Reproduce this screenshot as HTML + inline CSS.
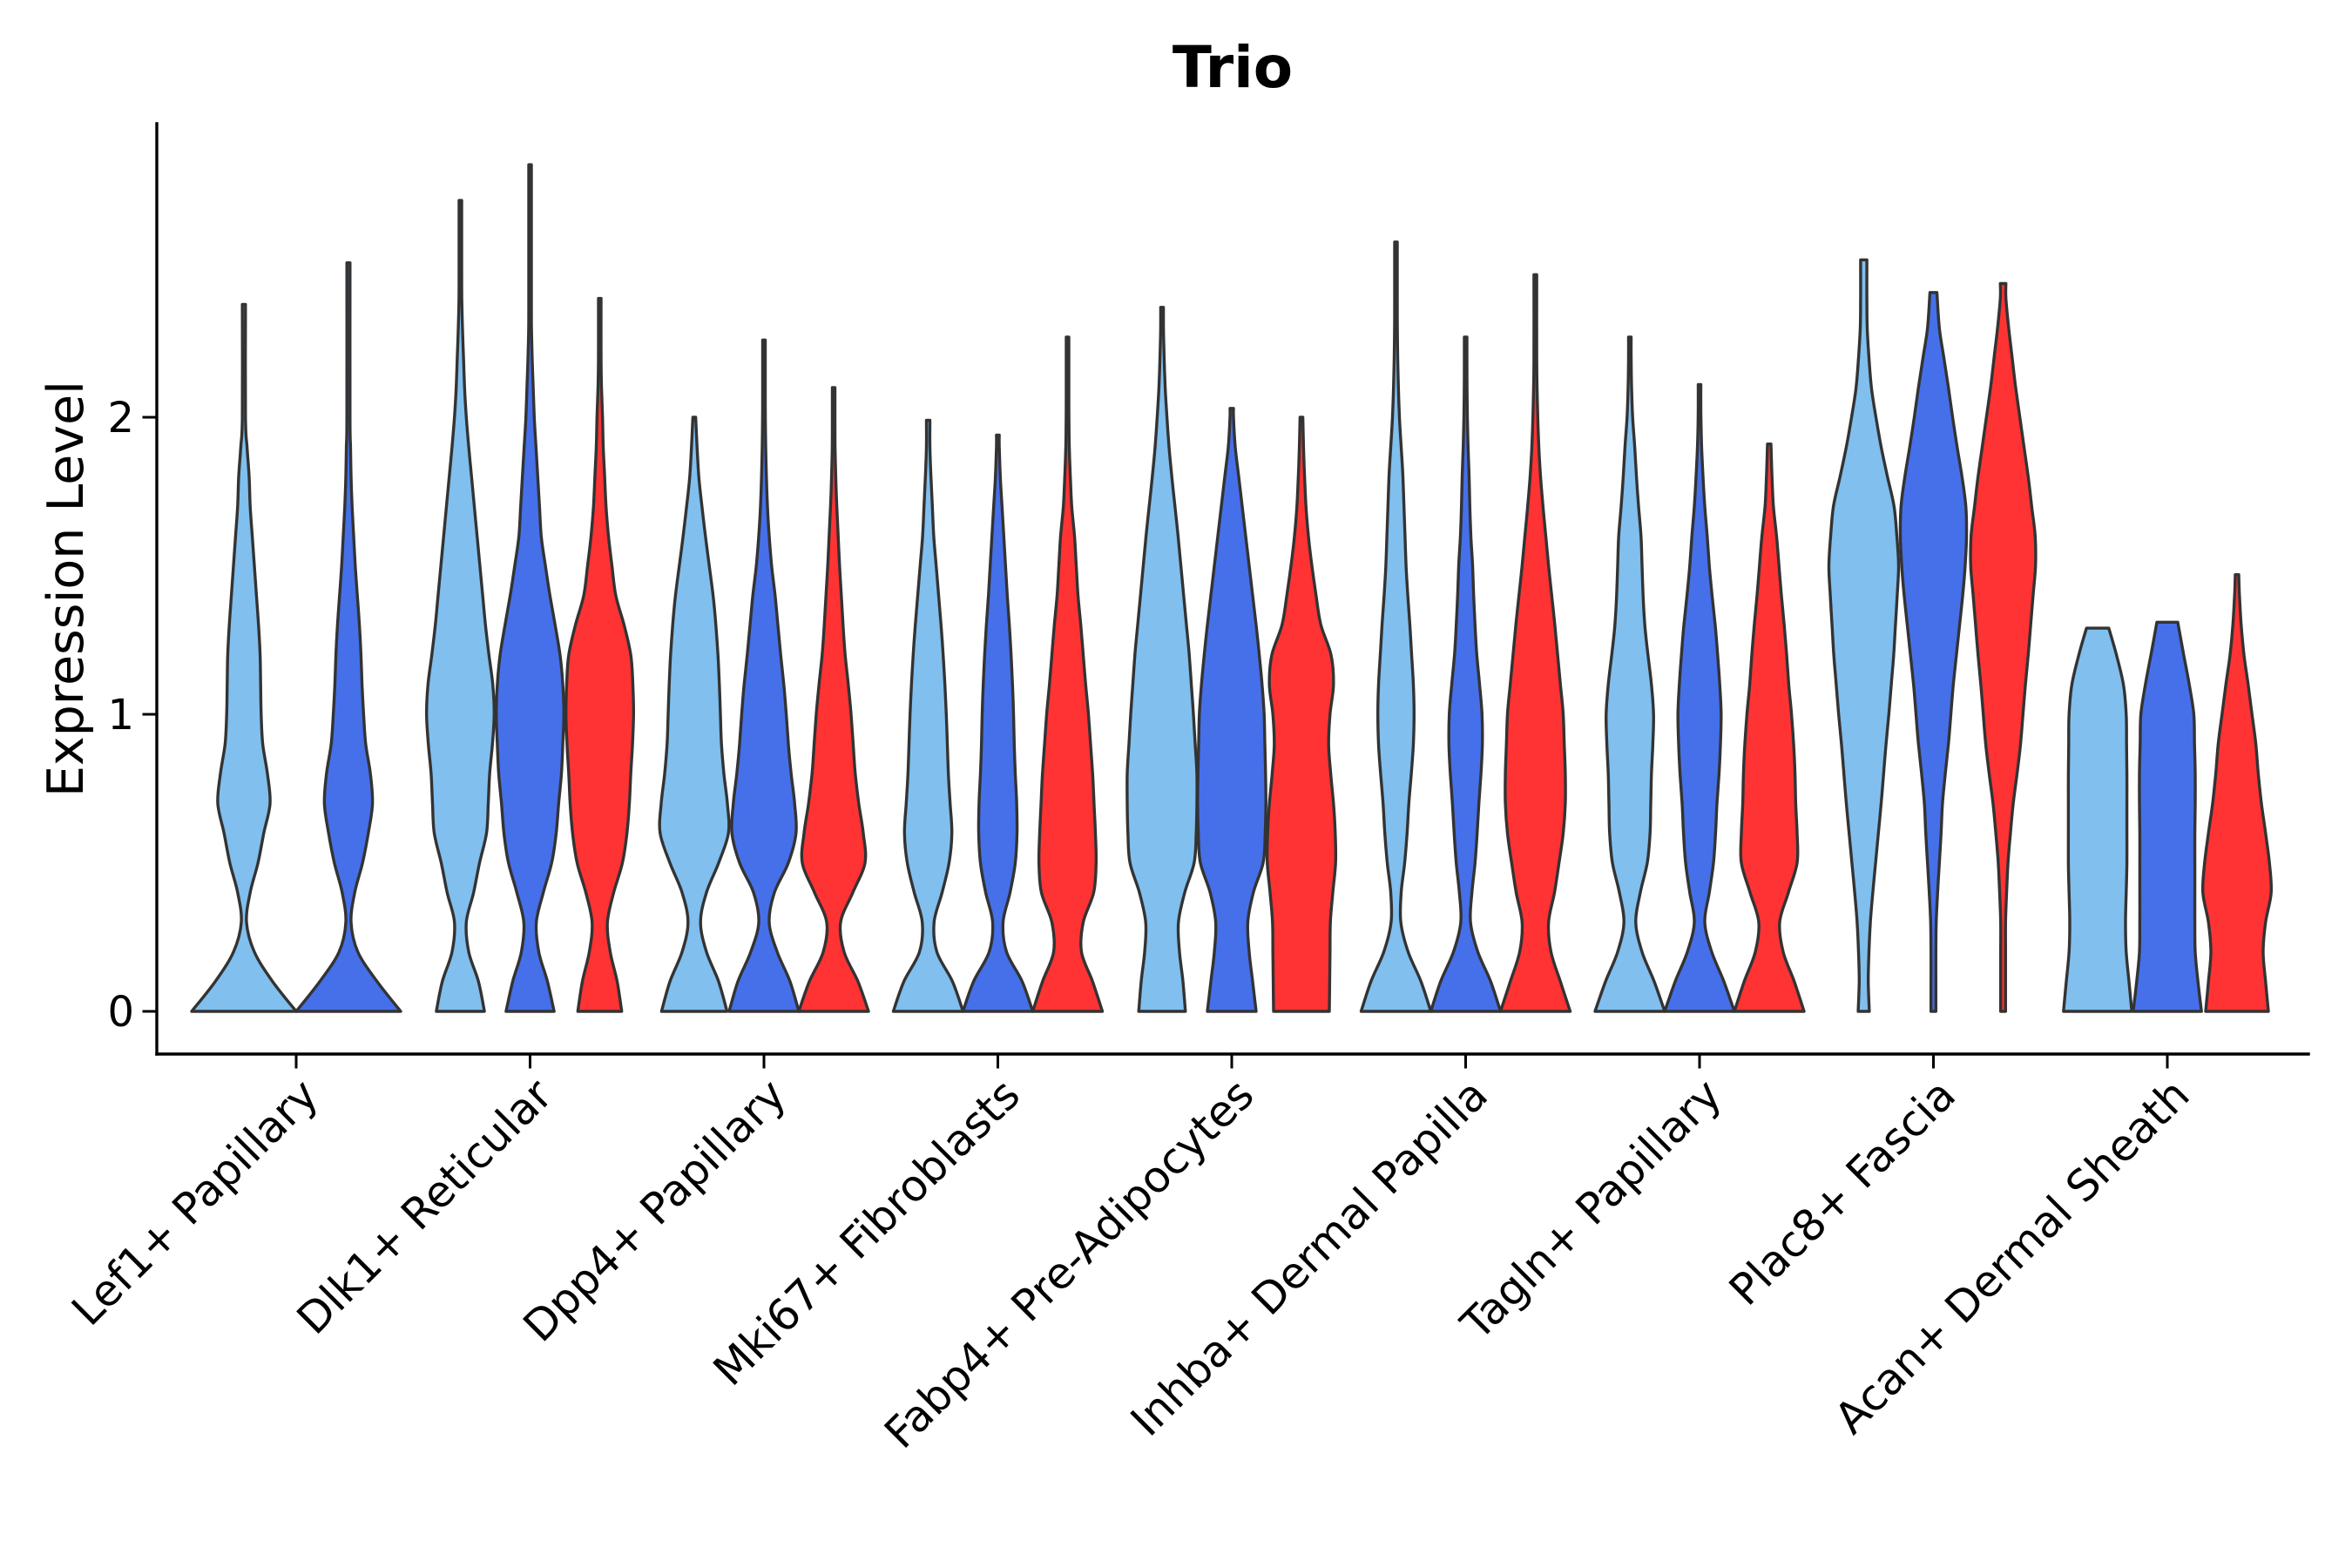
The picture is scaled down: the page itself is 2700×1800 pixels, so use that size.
<!DOCTYPE html>
<html><head><meta charset="utf-8"><style>
html,body{margin:0;padding:0;background:#fff;}
svg{display:block;}
text{font-family:"DejaVu Sans","Liberation Sans",sans-serif;fill:#000;}
</style></head><body>
<svg id="chart" width="2700" height="1800" viewBox="0 0 2700 1800" xmlns="http://www.w3.org/2000/svg">
<rect x="0" y="0" width="2700" height="1800" fill="#fff"/>
<text x="1415" y="100" font-size="66" font-weight="bold" text-anchor="middle">Trio</text>
<text transform="translate(95,676) rotate(-90)" font-size="57" text-anchor="middle">Expression Level</text>
<g id="violins"></g>
<g id="axes"></g>
</svg>
<script>
const categories = ["Lef1+ Papillary","Dlk1+ Reticular","Dpp4+ Papillary","Mki67+ Fibroblasts","Fabp4+ Pre-Adipocytes","Inhba+ Dermal Papilla","Tagln+ Papillary","Plac8+ Fascia","Acan+ Dermal Sheath"];
const groups = ["light","blue","red"];
const groupColors = ["#80bfee","#4570ea","#ff3333"];
const yTicks = [0,1,2];
// each violin: category index, group index, max value, densities sampled every 0.1 from 0
const violinCat = [0,0, 1,1,1, 2,2,2, 3,3,3, 4,4,4, 5,5,5, 6,6,6, 7,7,7, 8,8,8];
const violinGroup = [0,1, 0,1,2, 0,1,2, 0,1,2, 0,1,2, 0,1,2, 0,1,2, 0,1,2, 0,1,2];
const violinMax = [2.38,2.52, 2.73,2.85,2.4, 2.0,2.26,2.1, 1.99,1.94,2.27, 2.37,2.03,2.0, 2.59,2.27,2.48, 2.27,2.11,1.91, 2.53,2.42,2.45, 1.29,1.31,1.47];
const violinDensity = [
 [1.0,0.55,0.2,0.05,0.12,0.27,0.38,0.5,0.45,0.36,0.33,0.32,0.31,0.28,0.24,0.2,0.16,0.12,0.1,0.06,0.03],
 [1.0,0.55,0.18,0.05,0.12,0.27,0.38,0.46,0.42,0.33,0.29,0.26,0.24,0.21,0.17,0.13,0.1,0.07,0.05,0.04,0.03],
 [0.69,0.52,0.24,0.17,0.38,0.55,0.75,0.8,0.84,0.92,0.97,0.93,0.82,0.72,0.64,0.56,0.48,0.4,0.32,0.24,0.17,0.12,0.09,0.06,0.04,0.03],
 [0.69,0.5,0.25,0.18,0.38,0.62,0.75,0.82,0.9,0.94,0.97,0.94,0.86,0.72,0.57,0.44,0.32,0.27,0.22,0.17,0.12,0.09,0.06,0.04,0.03],
 [0.63,0.5,0.3,0.22,0.4,0.65,0.78,0.85,0.89,0.94,0.97,0.95,0.89,0.7,0.46,0.35,0.25,0.18,0.14,0.1,0.08,0.05,0.03],
 [0.94,0.7,0.35,0.18,0.35,0.7,0.98,0.95,0.85,0.78,0.75,0.72,0.68,0.62,0.54,0.43,0.32,0.22,0.13,0.08,0.04],
 [1.0,0.75,0.38,0.15,0.3,0.7,0.92,0.88,0.78,0.7,0.64,0.57,0.48,0.4,0.32,0.22,0.15,0.1,0.07,0.05,0.04,0.03],
 [1.0,0.7,0.3,0.2,0.55,0.9,0.85,0.72,0.62,0.56,0.5,0.42,0.33,0.27,0.22,0.17,0.13,0.09,0.06,0.04,0.03],
 [1.0,0.7,0.25,0.17,0.4,0.6,0.68,0.63,0.58,0.55,0.52,0.48,0.43,0.37,0.3,0.23,0.16,0.12,0.08,0.05],
 [1.0,0.7,0.25,0.15,0.35,0.5,0.55,0.54,0.5,0.47,0.45,0.42,0.38,0.33,0.27,0.22,0.17,0.12,0.07,0.04],
 [1.0,0.72,0.4,0.45,0.75,0.82,0.8,0.76,0.72,0.66,0.6,0.52,0.45,0.38,0.3,0.25,0.2,0.12,0.08,0.05,0.04,0.03],
 [0.67,0.6,0.5,0.47,0.65,0.92,0.98,1.0,1.0,0.95,0.9,0.84,0.78,0.7,0.62,0.54,0.46,0.37,0.28,0.2,0.14,0.09,0.06,0.04],
 [0.7,0.6,0.5,0.46,0.62,0.9,0.96,0.98,0.97,0.95,0.93,0.87,0.79,0.7,0.6,0.5,0.4,0.3,0.2,0.1,0.05],
 [0.8,0.81,0.82,0.83,0.9,0.98,0.97,0.92,0.84,0.78,0.82,0.92,0.85,0.56,0.42,0.3,0.2,0.13,0.09,0.06,0.04],
 [1.0,0.72,0.35,0.14,0.15,0.25,0.32,0.37,0.44,0.5,0.52,0.5,0.45,0.4,0.34,0.29,0.26,0.23,0.2,0.15,0.1,0.07,0.05,0.04,0.03],
 [1.0,0.72,0.35,0.14,0.18,0.27,0.33,0.38,0.44,0.48,0.47,0.4,0.32,0.27,0.23,0.2,0.15,0.12,0.1,0.07,0.05,0.04,0.03],
 [1.0,0.72,0.45,0.38,0.55,0.68,0.8,0.86,0.86,0.83,0.8,0.72,0.64,0.56,0.47,0.38,0.3,0.22,0.15,0.1,0.07,0.05,0.04],
 [1.0,0.7,0.35,0.17,0.3,0.5,0.58,0.6,0.62,0.66,0.68,0.62,0.52,0.43,0.38,0.35,0.32,0.25,0.19,0.14,0.08,0.05,0.03],
 [1.0,0.7,0.35,0.15,0.28,0.4,0.46,0.5,0.56,0.6,0.62,0.58,0.52,0.45,0.36,0.28,0.22,0.15,0.1,0.06,0.04,0.03],
 [1.0,0.72,0.4,0.3,0.55,0.8,0.8,0.76,0.74,0.7,0.64,0.56,0.5,0.43,0.35,0.28,0.21,0.12,0.08,0.05],
 [0.16,0.13,0.15,0.19,0.26,0.34,0.42,0.5,0.57,0.64,0.72,0.79,0.86,0.91,0.96,1.0,0.95,0.87,0.68,0.5,0.35,0.22,0.15,0.1,0.09,0.09],
 [0.07,0.07,0.07,0.08,0.12,0.17,0.22,0.26,0.34,0.43,0.5,0.57,0.66,0.75,0.84,0.91,0.95,0.93,0.82,0.68,0.55,0.43,0.3,0.17,0.1],
 [0.07,0.07,0.07,0.07,0.1,0.14,0.21,0.29,0.4,0.5,0.57,0.64,0.72,0.79,0.86,0.93,0.92,0.82,0.72,0.6,0.48,0.36,0.26,0.16,0.08],
 [0.98,0.9,0.82,0.8,0.82,0.84,0.84,0.84,0.84,0.83,0.82,0.74,0.54,0.32],
 [0.98,0.88,0.8,0.79,0.79,0.79,0.79,0.8,0.8,0.78,0.76,0.63,0.47,0.3],
 [0.9,0.82,0.75,0.82,0.98,0.93,0.82,0.7,0.61,0.54,0.43,0.32,0.2,0.12,0.07,0.05]
];
const violinStep = 0.1;

const NS = "http://www.w3.org/2000/svg";
const plotL = 180, plotR = 2650, plotT = 142, plotB = 1210;
const catStart = 340, catStep = 268.5, dodgeWidth = 240;
const y0 = 1161, yUnit = 341;
function yScale(v){ return y0 - v * yUnit; }
function xScale(i){ return catStart + i * catStep; }

function groupsInCat(c){
  let n = 0;
  for (let k = 0; k < violinCat.length; k++) if (violinCat[k] === c) n++;
  return n;
}
function smoothPath(pts){
  let d = "";
  for (let i = 0; i < pts.length - 1; i++){
    const p0 = pts[Math.max(0, i-1)], p1 = pts[i], p2 = pts[i+1], p3 = pts[Math.min(pts.length-1, i+2)];
    const c1x = p1[0] + (p2[0]-p0[0])/6, c1y = p1[1] + (p2[1]-p0[1])/6;
    const c2x = p2[0] - (p3[0]-p1[0])/6, c2y = p2[1] - (p3[1]-p1[1])/6;
    d += " C" + c1x.toFixed(1) + "," + c1y.toFixed(1) + " " + c2x.toFixed(1) + "," + c2y.toFixed(1) + " " + p2[0].toFixed(1) + "," + p2[1].toFixed(1);
  }
  return d;
}
const vg = document.getElementById("violins");
for (let k = 0; k < violinCat.length; k++){
  const c = violinCat[k], g = violinGroup[k];
  const n = groupsInCat(c);
  const w = dodgeWidth / n;
  const cx = xScale(c) + (g - (n-1)/2) * w;
  const half = w / 2;
  const dens = violinDensity[k], vmax = violinMax[k];
  const prof = [];
  for (let i = 0; i < dens.length; i++){
    const v = i * violinStep;
    if (v < vmax - 0.02) prof.push([v, dens[i]]);
  }
  prof.push([vmax, dens[dens.length-1]]);
  const left = prof.map(p => [cx - Math.max(p[1]*half, 1.5), yScale(p[0])]);
  const right = prof.map(p => [cx + Math.max(p[1]*half, 1.5), yScale(p[0])]).reverse();
  let d = "M" + left[0][0].toFixed(1) + "," + left[0][1].toFixed(1) + smoothPath(left);
  d += " L" + right[0][0].toFixed(1) + "," + right[0][1].toFixed(1) + smoothPath(right) + " Z";
  const path = document.createElementNS(NS, "path");
  path.setAttribute("d", d);
  path.setAttribute("fill", groupColors[g]);
  path.setAttribute("stroke", "#333");
  path.setAttribute("stroke-width", "3.4");
  path.setAttribute("stroke-linejoin", "round");
  
  
  vg.appendChild(path);
}

const ax = document.getElementById("axes");
function line(x1,y1,x2,y2,sw){
  const l = document.createElementNS(NS, "line");
  l.setAttribute("x1",x1); l.setAttribute("y1",y1); l.setAttribute("x2",x2); l.setAttribute("y2",y2);
  l.setAttribute("stroke","#000"); l.setAttribute("stroke-width",sw); l.setAttribute("stroke-linecap","square");
  ax.appendChild(l);
  return l;
}
const yAxis = line(plotL, plotT, plotL, plotB, 3.4);


const xAxis = line(plotL, plotB, plotR, plotB, 3.4);


for (const t of yTicks){
  const tk = line(plotL-15, yScale(t), plotL, yScale(t), 3);
  
  
  const tx = document.createElementNS(NS, "text");
  tx.setAttribute("x", plotL - 26);
  tx.setAttribute("y", yScale(t) + 17);
  tx.setAttribute("font-size", "48");
  tx.setAttribute("text-anchor", "end");
  tx.textContent = String(t);
  
  
  ax.appendChild(tx);
}
for (let i = 0; i < categories.length; i++){
  const x = xScale(i);
  const tk = line(x, plotB, x, plotB + 15, 3);
  
  
  const tx = document.createElementNS(NS, "text");
  tx.setAttribute("transform", "translate(" + (x + 28) + "," + (plotB + 50) + ") rotate(-45)");
  tx.setAttribute("font-size", "49.5");
  tx.setAttribute("text-anchor", "end");
  tx.textContent = categories[i];
  
  
  ax.appendChild(tx);
}
</script>
</body></html>
